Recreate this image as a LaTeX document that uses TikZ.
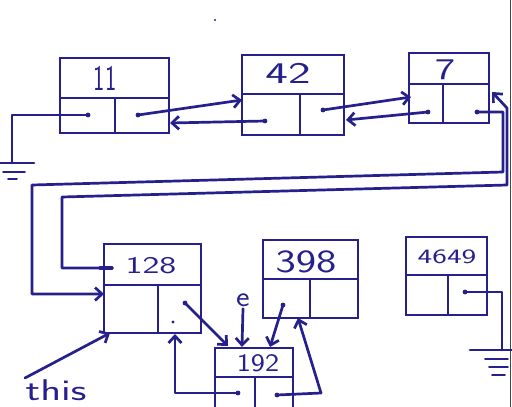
\documentclass[tikz,border=0pt]{standalone}
\usetikzlibrary{arrows.meta,calc}
\definecolor{ink}{RGB}{38,32,140}
\newcommand\hwtext[3]{\scalebox{#1}[#2]{#3}}
\tikzset{
 cell/.style={draw=ink, line width=2.7pt, inner sep=0pt, outer sep=0pt, rectangle},
 wire/.style={draw=ink, line width=2.7pt, line join=round, line cap=round},
 arr/.style={wire, -{Straight Barb[length=7pt,width=13pt]}},
 lbl/.style={text=ink, font=\sffamily\fontsize{24}{28}\selectfont, inner sep=0pt},
 gnd/.style={draw=ink, line width=1.6pt, line cap=round},
 dot/.style={fill=ink},
}
\begin{document}
\begin{tikzpicture}[x=1pt,y=-1pt]
\useasboundingbox (0,0) rectangle (512,407);
\clip (0,0) rectangle (512,407);
\fill[white] (0,0) rectangle (512,407);
% paper edge
\draw[gray!55!black, line width=1.1pt] (510.8,0) -- (510.8,407);

% ---- node 11
\node[cell, minimum width=109pt, minimum height=40pt] (k11) at (114.5,78) {};
\node[cell, minimum width=55pt, minimum height=35pt] (p11) at (87.5,115.5) {};
\node[cell, minimum width=54pt, minimum height=35pt] (n11) at (142,115.5) {};
\node[lbl] (t11) at (105,78) {\hwtext{1.0}{1.5}{11}};
% ---- node 42
\node[cell, minimum width=102pt, minimum height=39pt] (k42) at (293,74.5) {};
\node[cell, minimum width=58pt, minimum height=41pt] (p42) at (271,114.5) {};
\node[cell, minimum width=44pt, minimum height=41pt] (n42) at (322,114.5) {};
\node[lbl] (t42) at (288,73) {\hwtext{2.0}{1.25}{42}};
% ---- node 7
\node[cell, minimum width=80pt, minimum height=31pt] (k7) at (449,68.5) {};
\node[cell, minimum width=34pt, minimum height=39pt] (p7) at (426,103.5) {};
\node[cell, minimum width=46pt, minimum height=39pt] (n7) at (466,103.5) {};
\node[lbl] (t7) at (445,70) {\hwtext{1.8}{1.25}{7}};
% ---- node 128
\node[cell, minimum width=97pt, minimum height=41pt] (k128) at (152.5,264.5) {};
\node[cell, minimum width=54pt, minimum height=48pt] (p128) at (131,309) {};
\node[cell, minimum width=43pt, minimum height=48pt] (n128) at (179.5,309) {};
\node[lbl] (t128) at (151,266) {\hwtext{1.5}{1.0}{128}};
% ---- node 398
\node[cell, minimum width=95pt, minimum height=39pt] (k398) at (310.5,259.5) {};
\node[cell, minimum width=47pt, minimum height=39pt] (p398) at (286.5,298.5) {};
\node[cell, minimum width=48pt, minimum height=39pt] (n398) at (334,298.5) {};
\node[lbl] (t398) at (306,262) {\hwtext{1.8}{1.35}{398}};
% ---- node 4649
\node[cell, minimum width=81pt, minimum height=38pt] (k4649) at (446.5,256) {};
\node[cell, minimum width=42pt, minimum height=40pt] (p4649) at (427,295) {};
\node[cell, minimum width=39pt, minimum height=40pt] (n4649) at (467.5,295) {};
\node[lbl] (t4649) at (447,257) {\hwtext{1.3}{0.85}{4649}};
% ---- node 192
\node[cell, minimum width=78pt, minimum height=29pt] (k192) at (254,362.5) {};
\node[cell, minimum width=40pt, minimum height=43pt] (p192) at (235,398.5) {};
\node[cell, minimum width=38pt, minimum height=43pt] (n192) at (274,398.5) {};
\node[lbl] (t192) at (258,363) {\hwtext{1.25}{1.05}{192}};

% labels
\node[lbl] (this) at (56,390) {\hwtext{1.8}{1.25}{this}};
\node[lbl] (e) at (243,300) {\hwtext{1.35}{1.2}{e}};

% pointer origins
\coordinate (d11p) at (88,115);
\coordinate (d11n) at (138,115);
\coordinate (d42p) at (265,121);
\coordinate (d42n) at (323,110);
\coordinate (d7p) at (428,112);
\coordinate (d7n) at (477,112);
\coordinate (d128n) at (185,303);
\coordinate (d192p) at (238,393);
\coordinate (d192n) at (277,395);
\coordinate (d398p) at (283,305);
\coordinate (d4649n) at (465,292);
\coordinate (d128k) at (112,268);
% targets and corners
\coordinate (g1) at (12,163);
\coordinate (g2) at (502,350);
\coordinate (a42l) at (242,100);
\coordinate (a11r) at (170,123);
\coordinate (a7l) at (411,97);
\coordinate (a42r) at (346,120);
\coordinate (a7r) at (492,92);
\coordinate (a128l) at (104,294);
\coordinate (a128b) at (110,333);
\coordinate (a128c) at (175,334);
\coordinate (a192t) at (228,346);
\coordinate (a192e) at (242,347);
\coordinate (a192r) at (270,347);
\coordinate (a398b) at (298,318);
\coordinate (thisend) at (25,378);

\foreach \p in {d11n,d42p,d42n,d7p,d7n,d128n,d192p,d192n,d398p,d4649n,d11p}
  \fill[dot] (\p) circle (2.4pt);

% top row
\draw[wire] (d11p) -| (g1);
\draw[arr] (d11n) -- (a42l);
\draw[arr] (d42p) -- (a11r);
\draw[arr] (d42n) -- (a7l);
\draw[arr] (d7p) -- (a42r);
% long loops
\draw[arr] (d7n) -- (503,112) -- (503,172) -- (32,185) -- (32,294) -- (a128l);
\draw[arr] (d128k) -- (62,268) -- (62,197) -- (507,185) -- (507,108) -- (a7r);
\draw[wire, line width=3.4pt] (100,268) -- (d128k);
% lower part
\draw[arr] (thisend) -- (a128b);
\draw[arr] (d128n) -- (a192t);
\draw[arr] (e.south) ++(0,2) -- (a192e);
\draw[arr] (d192p) -- (175,393) -- (a128c);
\draw[arr] (d192n) -- (321,393) -- (a398b);
\draw[arr] (d398p) -- (a192r);
\draw[wire] (d4649n) -| (g2);

% grounds
\draw[wire] (0,163) -- (34,163);
\draw[gnd] (3,172) -- (25,172);
\draw[gnd] (8,179) -- (17,179);
\draw[wire] (470,350) -- (512,350);
\draw[gnd] (485,359) -- (508,359);
\draw[gnd] (489,367) -- (508,367);
\draw[gnd] (492,375) -- (505,375);

% stray dots
\fill[ink] (173,322) circle (1.6pt);
\fill[ink] (215,20) circle (1.2pt);
\end{tikzpicture}
\end{document}
